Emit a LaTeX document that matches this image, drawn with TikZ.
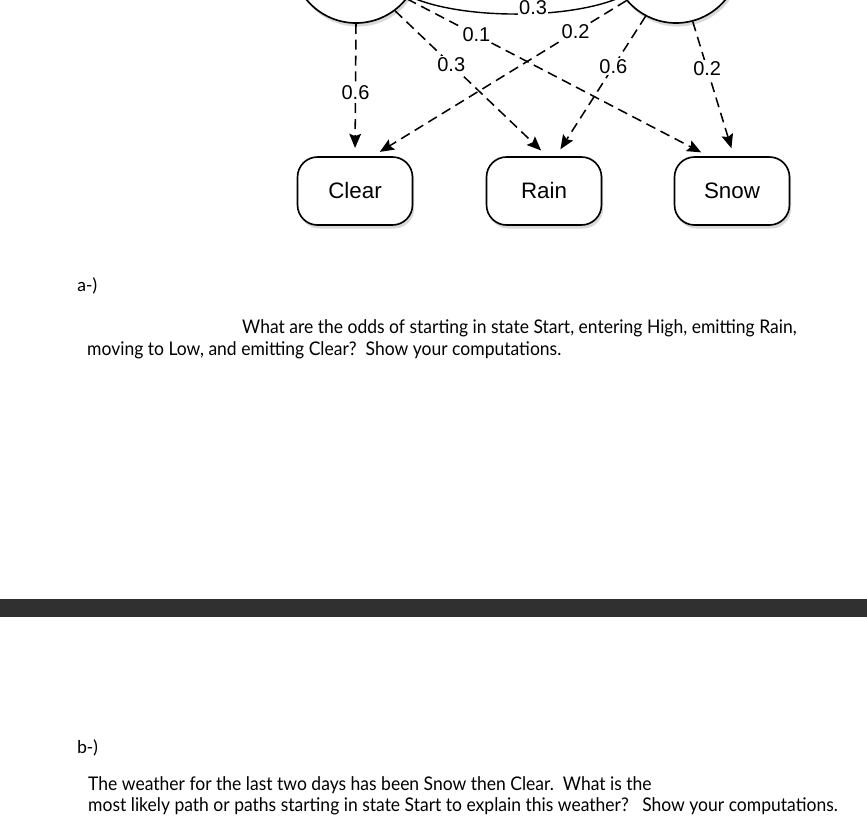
\documentclass[tikz,border=0pt]{standalone}
\usepackage{fontspec}
\usepackage{tikz}
\usetikzlibrary{arrows.meta}
\usetikzlibrary{shadows}
\setsansfont{Liberation Sans}
\newfontfamily\bodyfont[FakeStretch=0.93]{Lato}
\newfontfamily\partfont{Carlito}
\definecolor{bargray}{HTML}{303030}

\tikzset{
    hidden/.style={circle, draw, line width=1.4pt, fill=white, minimum size=108.8pt,
        drop shadow={shadow xshift=1.5pt, shadow yshift=-3pt, opacity=0.3}},
    obs/.style={rectangle, rounded corners=17pt, draw, line width=1.4pt, fill=white,
        minimum width=97.7pt, minimum height=57.8pt, font=\sffamily\fontsize{19}{19}\selectfont,
        drop shadow={shadow xshift=1.5pt, shadow yshift=-3pt, opacity=0.3}},
    emit/.style={line width=1.3pt, dash pattern=on 8.5pt off 5pt, -{Stealth[length=12pt, width=10pt, inset=2pt]}, shorten >=7pt},
    prob/.style={fill=white, inner sep=1pt, font=\sffamily\fontsize{17}{17}\selectfont},
    body/.style={anchor=base west, inner sep=0pt, font=\bodyfont\fontsize{16}{16}\selectfont},
    part/.style={anchor=base west, inner sep=0pt, font=\partfont\fontsize{16}{16}\selectfont}
}

\begin{document}
\begin{tikzpicture}[x=0.85pt, y=-0.85pt]
    \useasboundingbox (0, 0) rectangle (867, 825);
    \node[hidden] (low) at (356, -41) {};
    \node[hidden] (high) at (676, -41) {};
    \node[obs] (clear) at (355, 191) {Clear};
    \node[obs] (rain) at (544, 191) {Rain};
    \node[obs] (snow) at (732, 191) {Snow};

    \draw[line width=1.2pt] (low.-35) .. controls (460, 20) and (572, 20) .. (high.-145)
        node[prob, pos=0.57, yshift=5pt] {0.3};

    \draw[emit] (low.-90) -- node[prob, pos=0.52] {0.6} (clear.north);
    \draw[emit] (low.-53) -- node[prob, pos=0.37] {0.3} (rain.85);
    \draw[emit] (low.-38) -- node[prob, pos=0.23] {0.1} (snow.124);
    \draw[emit] (high.-140) -- node[prob, pos=0.2] {0.2} (clear.63);
    \draw[emit] (high.-118) -- node[prob, pos=0.36] {0.6} (rain.71);
    \draw[emit] (high.-75) -- node[prob, pos=0.35] {0.2} (snow.87);

    \node[part] (parta) at (77, 291) {a-)};
    \node[body] (qa1) at (242, 333) {What are the odds of starting in state Start, entering High, emitting Rain,};
    \node[body] (qa2) at (87, 355) {moving to Low, and emitting Clear?\ \ Show your computations.};

    \fill[bargray] (0, 599) rectangle (867, 617);

    \node[part] (partb) at (77, 753) {b-)};
    \node[body] (qb1) at (88, 790) {The weather for the last two days has been Snow then Clear.\ \ What is the};
    \node[body] (qb2) at (88, 811) {most likely path or paths starting in state Start to explain this weather?\ \ \ Show your computations.};
\end{tikzpicture}
\end{document}
